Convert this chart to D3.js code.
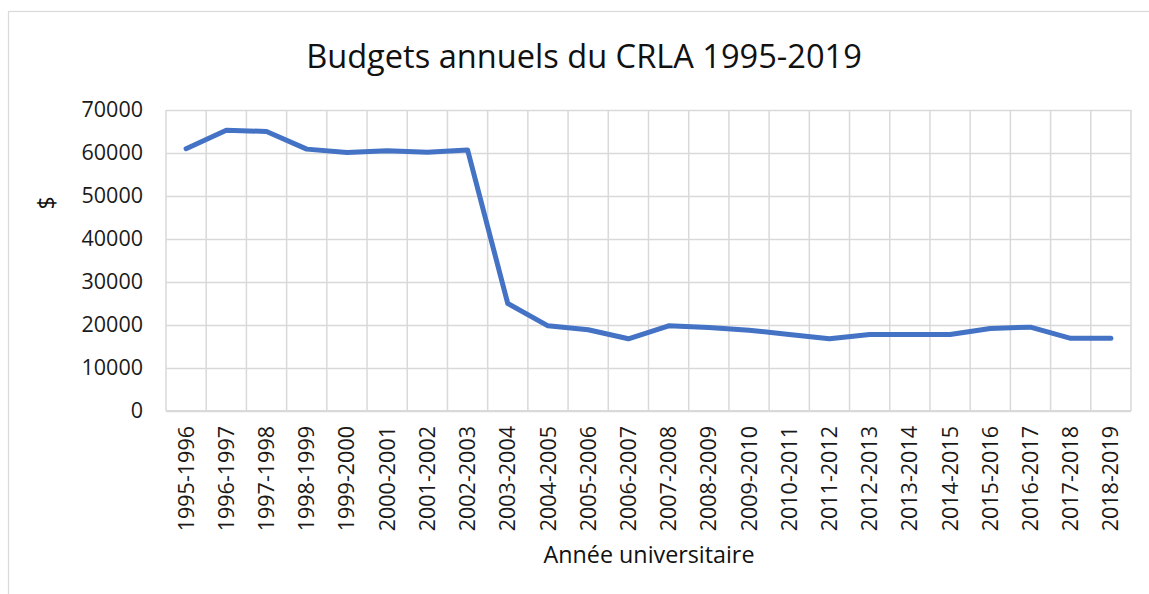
<!DOCTYPE html>
<html>
<head>
<meta charset="utf-8">
<script src="https://cdn.jsdelivr.net/npm/d3@7"></script>
<style>
  html, body { margin: 0; padding: 0; background: #fff; }
  svg { display: block; font-family: "Open Sans", "Liberation Sans", sans-serif; }
</style>
</head>
<body>
<svg id="chart" width="1149" height="594"></svg>
<script>
const categories = ["1995-1996","1996-1997","1997-1998","1998-1999","1999-2000","2000-2001","2001-2002","2002-2003","2003-2004","2004-2005","2005-2006","2006-2007","2007-2008","2008-2009","2009-2010","2010-2011","2011-2012","2012-2013","2013-2014","2014-2015","2015-2016","2016-2017","2017-2018","2018-2019"];
const budgets = [61000,65300,65000,60900,60100,60500,60200,60700,25000,19800,18900,16800,19800,19400,18800,17800,16800,17800,17800,17800,19200,19500,16900,16900];
const yTicks = [0,10000,20000,30000,40000,50000,60000,70000];
const titleText = "Budgets annuels du CRLA 1995-2019";
const xTitle = "Année universitaire";
const yTitle = "$";

(function () {
const svg = d3.select("#chart");
const pLeft = 166, pRight = 1131, pTop = 110, pBottom = 411;
const W = pRight - pLeft;

// outer chart border
svg.append("rect").attr("x", 8.5).attr("y", 11.5).attr("width", 1160).attr("height", 600)
  .attr("fill", "none").attr("stroke", "#d9d9d9").attr("stroke-width", 1.2);

const x = d3.scaleBand().domain(categories).range([pLeft, pRight]).padding(0);
const y = d3.scaleLinear().domain([0, 70000]).range([pBottom, pTop]);

const g = svg.append("g");

// horizontal gridlines
g.append("g").attr("transform", `translate(${pLeft},0)`)
  .call(d3.axisLeft(y).tickValues(yTicks).tickSize(-W).tickFormat(""))
  .call(s => s.select(".domain").remove())
  .call(s => s.selectAll("line").attr("stroke", "#d9d9d9").attr("stroke-width", 1.5));

// vertical gridlines at category boundaries
const bounds = categories.map(c => x(c)).concat([pRight]);
g.append("g").selectAll("line").data(bounds).join("line")
  .attr("x1", d => d).attr("x2", d => d).attr("y1", pTop).attr("y2", pBottom)
  .attr("stroke", "#d9d9d9").attr("stroke-width", 1.5);

// bottom axis line
g.append("line").attr("x1", pLeft).attr("x2", pRight).attr("y1", pBottom).attr("y2", pBottom)
  .attr("stroke", "#d9d9d9").attr("stroke-width", 2);

// y tick labels
const yAxis = g.append("g").attr("transform", `translate(${pLeft},0)`)
  .call(d3.axisLeft(y).tickValues(yTicks).tickSize(0).tickPadding(23).tickFormat(d3.format("d")));
yAxis.select(".domain").remove();
yAxis.selectAll("text").attr("font-size", 21.5).attr("fill", "#1a1a1a").attr("font-family", "Open Sans");

// x tick labels, rotated
const xAxis = g.append("g").attr("transform", `translate(0,${pBottom})`)
  .call(d3.axisBottom(x).tickSize(0).tickPadding(0));
xAxis.select(".domain").remove();
xAxis.selectAll("text")
  .attr("font-size", 21.5).attr("fill", "#1a1a1a").attr("font-family", "Open Sans")
  .attr("text-anchor", "end")
  .attr("transform", "rotate(-90)")
  .attr("x", -15).attr("y", 0).attr("dy", "0.35em");

// line
const line = d3.line().x((d, i) => x(categories[i]) + x.bandwidth() / 2).y(d => y(d));
g.append("path").datum(budgets).attr("d", line)
  .attr("fill", "none").attr("stroke", "#4472C4").attr("stroke-width", 5)
  .attr("stroke-linejoin", "round").attr("stroke-linecap", "round");

// title
svg.append("text").attr("x", 584).attr("y", 68).attr("text-anchor", "middle")
  .attr("font-size", 32.6).attr("fill", "#111").text(titleText);

// axis titles
svg.append("text").attr("x", 649).attr("y", 563).attr("text-anchor", "middle")
  .attr("font-size", 23.3).attr("fill", "#111").text(xTitle);
svg.append("text").attr("transform", "translate(47,203) rotate(-90)").attr("text-anchor", "middle")
  .attr("dy", "0.35em").attr("font-size", 23).attr("fill", "#111").text(yTitle);
})();
</script>
</body>
</html>
